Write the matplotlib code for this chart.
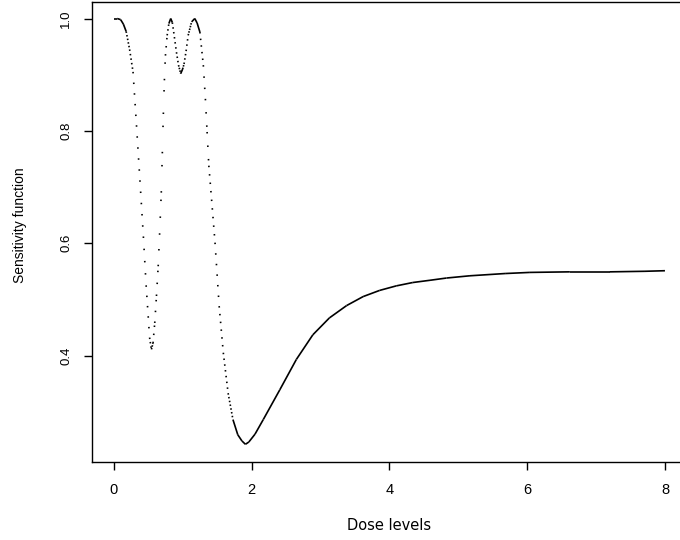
import matplotlib
matplotlib.use("Agg")
import matplotlib.pyplot as plt
from matplotlib.collections import LineCollection
import numpy as np

# sensitivity function
dose = [0.00, 0.05, 0.10, 0.14, 0.18, 0.23, 0.28, 0.33, 0.38, 0.43, 0.47, 0.50,
        0.52, 0.547, 0.57, 0.595, 0.62, 0.645, 0.665, 0.69, 0.705, 0.72, 0.735,
        0.75, 0.775, 0.80, 0.827, 0.85, 0.87, 0.91, 0.94, 0.972, 1.00, 1.02,
        1.05, 1.08, 1.13, 1.176, 1.21, 1.25, 1.30, 1.33, 1.355, 1.38, 1.41,
        1.47, 1.53, 1.59, 1.66, 1.73, 1.80, 1.86, 1.911, 1.96, 2.05, 2.17,
        2.41, 2.65, 2.89, 3.13, 3.38, 3.62, 3.86, 4.10, 4.34, 4.59, 4.83,
        5.17, 5.68, 6.04, 6.62, 7.20, 7.71, 8.00]
sens = [1.000, 1.000, 0.998, 0.990, 0.977, 0.945, 0.905, 0.810, 0.712, 0.612,
        0.525, 0.470, 0.432, 0.411, 0.422, 0.458, 0.506, 0.559, 0.615, 0.690,
        0.760, 0.830, 0.890, 0.934, 0.970, 0.991, 1.000, 0.993, 0.976, 0.940,
        0.917, 0.902, 0.910, 0.919, 0.942, 0.970, 0.994, 1.000, 0.992, 0.976,
        0.917, 0.857, 0.798, 0.738, 0.693, 0.601, 0.488, 0.405, 0.333, 0.286,
        0.259, 0.248, 0.242, 0.246, 0.260, 0.286, 0.339, 0.393, 0.437, 0.467,
        0.489, 0.505, 0.516, 0.524, 0.530, 0.534, 0.538, 0.542, 0.546, 0.548,
        0.549, 0.549, 0.550, 0.551]

xticks = [0, 2, 4, 6, 8]
yticks = [0.4, 0.6, 0.8, 1.0]
ytick_labels = ["0.4", "0.6", "0.8", "1.0"]

W, H = 680, 540
fig = plt.figure(figsize=(6.8, 5.4), dpi=100)
# plot box runs past the right edge of the picture, as in the reference
ax = fig.add_axes([91.7 / W, (H - 461.7) / H, (687 - 91.7) / W, (461.7 - 1.5) / H])
ax.set_xlim(-0.32, 8.32)
ax.set_ylim(0.2110, 1.0303)

# the original is a dense run of points (one every 0.01 dose), so steep parts
# look dotted: gap between points grows with the slope on screen
xy = np.column_stack([dose, sens])
pix = ax.transData.transform(xy)
step_px = (pix[1, 0] - pix[0, 0]) / (dose[1] - dose[0]) * 0.01
dot = 1.5
segs, styles = [], []
for i in range(len(dose) - 1):
    dx = pix[i + 1, 0] - pix[i, 0]
    dy = pix[i + 1, 1] - pix[i, 1]
    gap = step_px * np.hypot(1, dy / dx)
    segs.append(xy[i:i + 2])
    if gap > 2.4:
        styles.append((0, (dot * 0.72 / 1.2, (gap - dot) * 0.72 / 1.2)))
    else:
        styles.append("solid")
ax.add_collection(LineCollection(segs, colors="black", linewidths=1.2,
                                 linestyles=styles, capstyle="butt"))

for s in ax.spines.values():
    s.set_linewidth(1.0)
    s.set_color("black")

ax.set_xticks(xticks)
ax.set_xticklabels([str(t) for t in xticks], fontfamily="Liberation Sans", fontsize=10.5)
ax.set_yticks(yticks)
ax.set_yticklabels(ytick_labels, fontfamily="Liberation Sans", fontsize=9.5,
                   rotation=90, va="center")
ax.tick_params(axis="x", length=6, width=1, pad=9)
ax.tick_params(axis="y", length=6, width=1, pad=8)

fig.text(388.8 / W, 1 - 525.7 / H, "Dose levels", fontfamily="DejaVu Sans",
         fontsize=10.5, ha="center", va="center")
fig.text(20 / W, 1 - 225 / H, "Sensitivity function", fontfamily="Liberation Sans",
         fontsize=10, rotation=90, ha="center", va="center")

fig.savefig("out.png", dpi=100)
